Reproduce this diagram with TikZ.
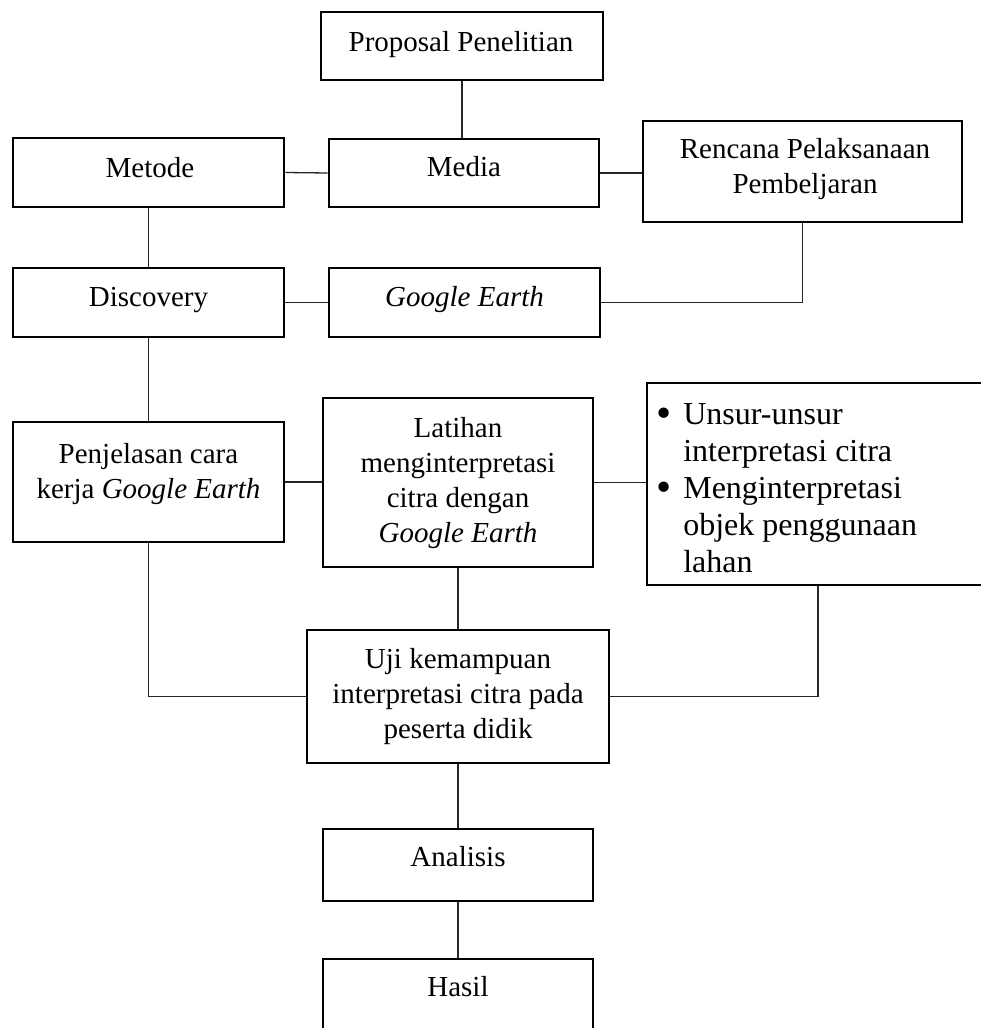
\documentclass[tikz,border=0pt]{standalone}
\usepackage{fontspec}
\setmainfont{Liberation Serif}
\newcommand{\mlines}[1]{\begin{tabular}[b]{@{}c@{}}#1\end{tabular}}
\newcommand{\bigbul}{\raisebox{-3.5pt}{\scalebox{1.35}{\textbullet}}}
\begin{document}
\begin{tikzpicture}[x=1pt,y=-1pt,
  boxnode/.style={draw=black, line width=2.8pt, inner sep=0pt, fill=none},
  txt/.style={inner sep=0pt, anchor=base, font=\fontsize{29}{35}\selectfont},
  conn/.style={draw=black!85, line width=1.3pt}]
\useasboundingbox (0,0) rectangle (981,1028);
\fill[white] (0,0) rectangle (981,1028);
% boxes
\node[boxnode, minimum width=282pt, minimum height=68pt] (prop) at (462,46) {};
\node[boxnode, minimum width=271pt, minimum height=69pt] (metode) at (148.5,172.5) {};
\node[boxnode, minimum width=270pt, minimum height=68pt] (media) at (464,173) {};
\node[boxnode, minimum width=319pt, minimum height=101pt] (rpp) at (802.5,171.5) {};
\node[boxnode, minimum width=271pt, minimum height=69pt] (disc) at (148.5,302.5) {};
\node[boxnode, minimum width=271pt, minimum height=69pt] (ge) at (464.5,302.5) {};
\node[boxnode, minimum width=271pt, minimum height=120pt] (penj) at (148.5,482) {};
\node[boxnode, minimum width=270pt, minimum height=169pt] (lat) at (458,482.5) {};
\node[boxnode, minimum width=363pt, minimum height=202pt] (bul) at (828.5,484) {};
\node[boxnode, minimum width=302pt, minimum height=133pt] (uji) at (458,696.5) {};
\node[boxnode, minimum width=270pt, minimum height=72pt] (anal) at (458,865) {};
\node[boxnode, minimum width=270pt, minimum height=91pt] (hasil) at (458,1004.5) {};
% texts
\node[txt] (tprop) at (461,51) {Proposal Penelitian};
\node[txt] (tmetode) at (150,177) {Metode};
\node[txt] (tmedia) at (464,176) {Media};
\node[txt] (trpp) at (805,193) {\mlines{Rencana Pelaksanaan\\Pembeljaran}};
\node[txt] (tdisc) at (148.5,306) {Discovery};
\node[txt] (tge) at (464.5,306) {\textit{Google Earth}};
\node[txt] (tpenj) at (148.5,498) {\mlines{Penjelasan cara\\kerja \textit{Google Earth}}};
\node[txt] (tlat) at (458,542) {\mlines{Latihan\\menginterpretasi\\citra dengan\\\textit{Google Earth}}};
\node[txt] (tuji) at (458,738) {\mlines{Uji kemampuan\\interpretasi citra pada\\peserta didik}};
\node[txt] (tanal) at (458,866) {Analisis};
\node[txt] (thasil) at (458,996) {Hasil};
\node[inner sep=0pt, anchor=base west, font=\fontsize{32}{37}\selectfont] (tbul) at (656,572)
  {\begin{tabular}[b]{@{}l@{\hspace{12pt}}l@{}}
   \bigbul & Unsur-unsur\\
           & interpretasi citra\\
   \bigbul & Menginterpretasi\\
           & objek penggunaan\\
           & lahan
   \end{tabular}};
% connectors
\coordinate (bulc) at (818,0);
\draw[conn] (prop.south) -- (prop.south |- media.north);
\draw[conn] (metode.east) -- (media.west);
\draw[conn] (media.east) -- (media.east -| rpp.west);
\draw[conn] (metode.south) -- (disc.north);
\draw[conn] (disc.east) -- (ge.west);
\draw[conn] (rpp.south) -- (rpp.south |- ge.east) -- (ge.east);
\draw[conn] (disc.south) -- (penj.north);
\draw[conn] (penj.east) -- (penj.east -| lat.west);
\draw[conn] (lat.east) -- (lat.east -| bul.west);
\draw[conn] (lat.south) -- (uji.north);
\draw[conn] (penj.south) -- (penj.south |- uji.west) -- (uji.west);
\draw[conn] (bulc |- bul.south) -- (bulc |- uji.east) -- (uji.east);
\draw[conn] (uji.south) -- (anal.north);
\draw[conn] (anal.south) -- (hasil.north);
\end{tikzpicture}
\end{document}
